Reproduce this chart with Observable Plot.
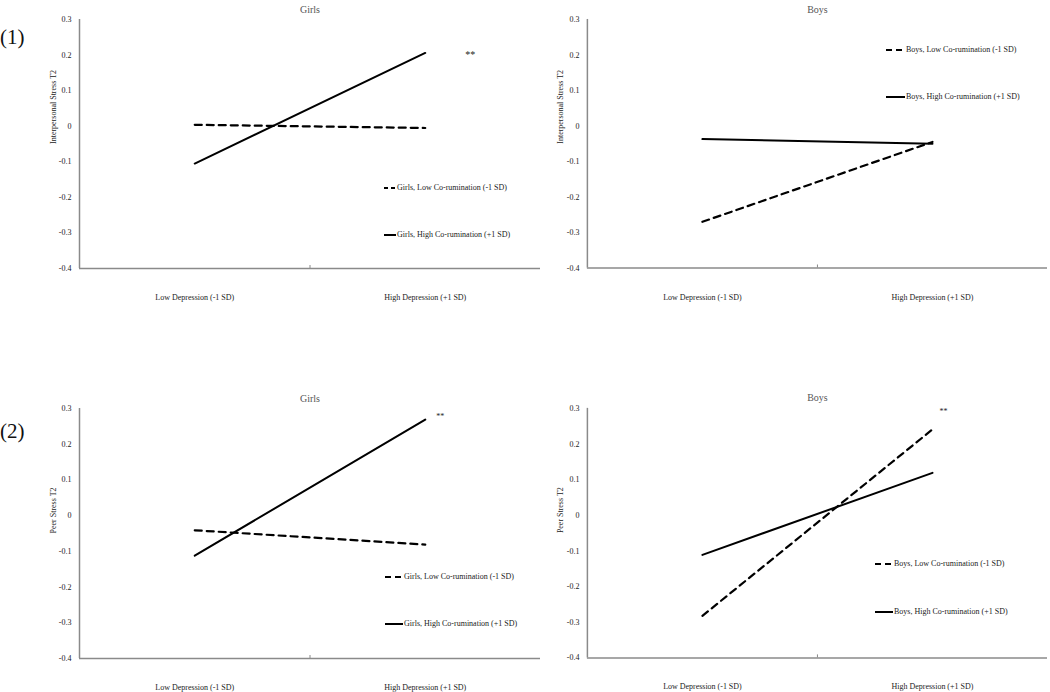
<!DOCTYPE html>
<html><head><meta charset="utf-8">
<script src="https://cdn.jsdelivr.net/npm/d3@7"></script>
<script src="https://cdn.jsdelivr.net/npm/@observablehq/plot@0.6"></script>
<style>
body{margin:0;background:#fff;}
#wrap{position:relative;width:1050px;height:692px;font-family:"Liberation Serif","Times New Roman",serif;overflow:hidden;background:#fff}
.panel{position:absolute}
.leg{position:absolute;font-size:8px;color:#222;display:flex;align-items:center;white-space:nowrap;height:10px;line-height:1}
.leg svg{display:block;margin-right:1px}
.rowlab{position:absolute;font-size:21px;color:#111;line-height:1}
</style></head><body><div id="wrap"></div>
<script>
// ---- data ----
const categories = ["Low Depression (-1 SD)", "High Depression (+1 SD)"];
const yTicks = [-0.4, -0.3, -0.2, -0.1, 0, 0.1, 0.2, 0.3];
const yDomain = [-0.4, 0.3];
const xDomain = [-0.5, 1.5];
const rowLabels = ["(1)", "(2)"];
const panelTitles = ["Girls", "Boys", "Girls", "Boys"];
const yLabels = ["Interpersonal Stress T2", "Interpersonal Stress T2", "Peer Stress T2", "Peer Stress T2"];
const legendNames = [
  ["Girls, Low Co-rumination (-1 SD)", "Girls, High Co-rumination (+1 SD)"],
  ["Boys, Low Co-rumination (-1 SD)", "Boys, High Co-rumination (+1 SD)"],
  ["Girls, Low Co-rumination (-1 SD)", "Girls, High Co-rumination (+1 SD)"],
  ["Boys, Low Co-rumination (-1 SD)", "Boys, High Co-rumination (+1 SD)"]
];
const interpGirlsLow  = [0.004, -0.005];
const interpGirlsHigh = [-0.105, 0.206];
const interpBoysLow   = [-0.270, -0.045];
const interpBoysHigh  = [-0.037, -0.050];
const peerGirlsLow    = [-0.041, -0.081];
const peerGirlsHigh   = [-0.112, 0.269];
const peerBoysLow     = [-0.282, 0.241];
const peerBoysHigh    = [-0.111, 0.119];
const significance = "**";

// ---- layout ----
const panels = [
  {left:0,   top:0,   mL:79, mT:19, mB:40, mR:5, h:249, low:interpGirlsLow, high:interpGirlsHigh, star:{s:"high", dx:45, dy:2, fs:10},
   leg:{x:384, ys:[188,235], sw:12}, ylx:-26},
  {left:530, top:0,   mL:57, mT:19, mB:40, mR:3, h:249, low:interpBoysLow, high:interpBoysHigh, star:null,
   leg:{x:886, ys:[50,97], sw:19}, ylx:-27},
  {left:0,   top:340, mL:79, mT:68, mB:34, mR:5, h:250, low:peerGirlsLow, high:peerGirlsHigh, star:{s:"high", dx:15, dy:-3, fs:8},
   leg:{x:385, ys:[577,624], sw:18}, ylx:-26},
  {left:530, top:340, mL:57, mT:68, mB:34, mR:3, h:250, low:peerBoysLow, high:peerBoysHigh, star:{s:"low", dx:11, dy:-18, fs:8},
   leg:{x:875, ys:[564,612], sw:18}, ylx:-27}
];
const plotW = 461;
const fmt = d => d === 0 ? "0" : d.toFixed(1);
const wrap = document.getElementById("wrap");

panels.forEach((p, k) => {
  const lowData = p.low.map((v, i) => ({i, v}));
  const highData = p.high.map((v, i) => ({i, v}));
  const starData = p.star ? [(p.star.s === "high" ? highData : lowData)[1]] : [];
  const chart = Plot.plot({
    width: p.mL + plotW + p.mR,
    height: p.mT + p.h + p.mB,
    marginLeft: p.mL, marginTop: p.mT, marginBottom: p.mB, marginRight: p.mR,
    style: {fontFamily: "Liberation Serif, Times New Roman, serif", fontSize: "8px", background: "transparent", color: "#222", overflow: "visible"},
    x: {type: "linear", domain: xDomain, axis: null},
    y: {type: "linear", domain: yDomain, axis: null},
    marks: [
      Plot.ruleX([xDomain[0]], {stroke: "#8a8a8a", strokeWidth: 1.5}),
      Plot.ruleY([yDomain[0]], {stroke: "#8a8a8a", strokeWidth: 1.5}),
      Plot.axisY({ticks: yTicks, tickSize: 0, tickPadding: 8, tickFormat: fmt, label: null, fill: "#222"}),
      Plot.axisX({ticks: [0, 1], tickSize: 0, tickPadding: 26, tickFormat: i => categories[i], label: null, fill: "#222"}),
      Plot.axisX({ticks: [0.5], tickSize: 3, tickFormat: () => "", label: null, stroke: "#8a8a8a", dy: -3}),
      Plot.lineY(lowData, {x: "i", y: "v", stroke: "#000", strokeWidth: 2.2, strokeDasharray: "7,5"}),
      Plot.lineY(highData, {x: "i", y: "v", stroke: "#000", strokeWidth: 2}),
      Plot.text([panelTitles[k]], {text: d => d, frameAnchor: "top", dy: -14, fontSize: 10, fill: "#555"}),
      Plot.text([yLabels[k]], {text: d => d, frameAnchor: "left", rotate: -90, dx: p.ylx, fontSize: 8, fill: "#222"}),
      p.star ? Plot.text(starData, {x: "i", y: "v", text: () => significance, dx: p.star.dx, dy: p.star.dy, fontSize: p.star.fs, fill: "#222"}) : null
    ]
  });
  const div = document.createElement("div");
  div.className = "panel";
  div.style.left = p.left + "px";
  div.style.top = p.top + "px";
  div.appendChild(chart);
  wrap.appendChild(div);

  // legend
  legendNames[k].forEach((name, j) => {
    const e = document.createElement("div");
    e.className = "leg";
    e.style.left = p.leg.x + "px";
    e.style.top = (p.leg.ys[j] - 5) + "px";
    const dash = j === 0 ? ` stroke-dasharray="${p.leg.sw > 14 ? "6,4" : "4,3"}"` : "";
    e.innerHTML = `<svg width="${p.leg.sw}" height="6"><line x1="0" y1="3" x2="${p.leg.sw}" y2="3" stroke="#000" stroke-width="2"${dash}/></svg><span>${name}</span>`;
    wrap.appendChild(e);
  });
});

rowLabels.forEach((t, r) => {
  const e = document.createElement("div");
  e.className = "rowlab";
  e.style.left = "0px";
  e.style.top = (r === 0 ? 27 : 421) + "px";
  e.textContent = t;
  wrap.appendChild(e);
});
</script>
</body></html>
